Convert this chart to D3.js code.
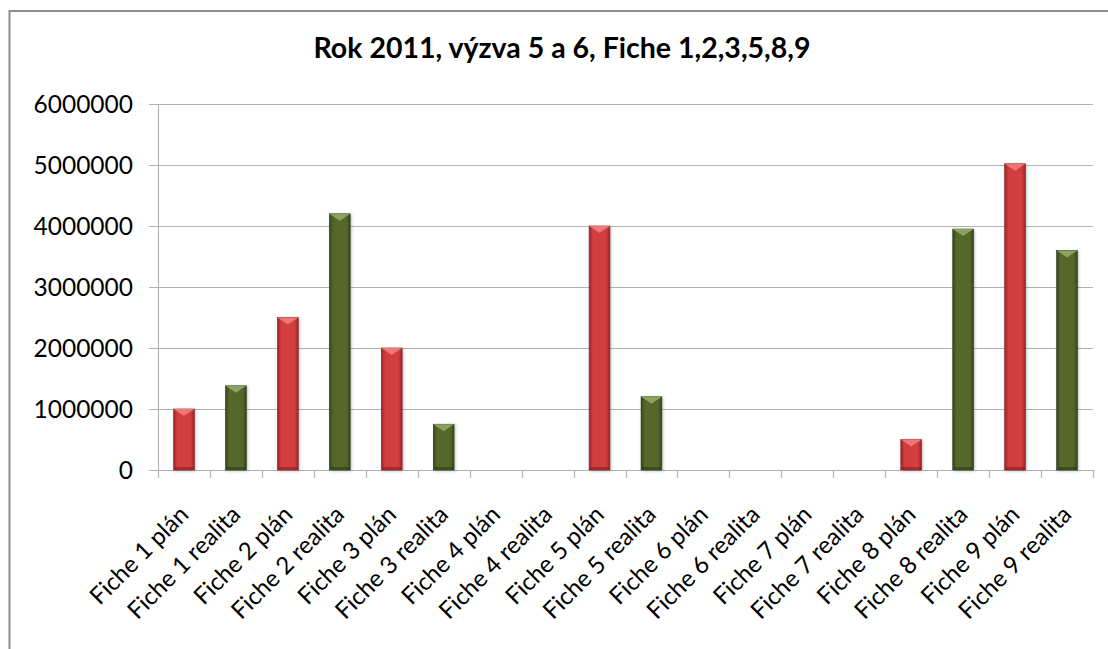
<!DOCTYPE html>
<html>
<head>
<meta charset="utf-8">
<script src="https://cdn.jsdelivr.net/npm/d3@7"></script>
<style>
  body { margin: 0; background: #fff; }
  text { font-family: Lato, "Open Sans", sans-serif; fill: #000; }
</style>
</head>
<body>
<svg width="1108" height="649"></svg>
<script>
// data
const categories = ['Fiche 1 plán', 'Fiche 1 realita', 'Fiche 2 plán', 'Fiche 2 realita',
  'Fiche 3 plán', 'Fiche 3 realita', 'Fiche 4 plán', 'Fiche 4 realita',
  'Fiche 5 plán', 'Fiche 5 realita', 'Fiche 6 plán', 'Fiche 6 realita',
  'Fiche 7 plán', 'Fiche 7 realita', 'Fiche 8 plán', 'Fiche 8 realita',
  'Fiche 9 plán', 'Fiche 9 realita']
const values = [1000000, 1380000, 2500000, 4200000, 2000000, 750000, 0, 0,
  4000000, 1200000, 0, 0, 0, 0, 500000, 3950000, 5020000, 3600000]
const yTicks = [0, 1000000, 2000000, 3000000, 4000000, 5000000, 6000000]
const title = 'Rok 2011, výzva 5 a 6, Fiche 1,2,3,5,8,9'

const svg = d3.select('svg')
const margin = { left: 158, right: 1093, top: 104, bottom: 470 }

// bar styles: plán red, realita green
const styles = {
  red: { edge: '#9a2727', mid: '#d23c3d', top: '#ee7676', dark: '#7a1d1e' },
  green: { edge: '#38461a', mid: '#53672a', top: '#8ba260', dark: '#2a3513' }
}

const defs = svg.append('defs')
Object.entries(styles).forEach(([k, s]) => {
  const g = defs.append('linearGradient').attr('id', 'grad-' + k)
    .attr('x1', 0).attr('x2', 1).attr('y1', 0).attr('y2', 0)
  g.append('stop').attr('offset', '0%').attr('stop-color', s.edge)
  g.append('stop').attr('offset', '18%').attr('stop-color', s.mid)
  g.append('stop').attr('offset', '82%').attr('stop-color', s.mid)
  g.append('stop').attr('offset', '100%').attr('stop-color', s.edge)
})
const shadow = defs.append('filter').attr('id', 'shadow')
  .attr('x', '-30%').attr('y', '-10%').attr('width', '160%').attr('height', '120%')
shadow.append('feDropShadow').attr('dx', 1).attr('dy', 1).attr('stdDeviation', 1.5)
  .attr('flood-color', '#000').attr('flood-opacity', 0.25)

// chart frame
svg.append('rect')
  .attr('x', 9.5).attr('y', 11).attr('width', 1200).attr('height', 800)
  .attr('fill', '#fff').attr('stroke', '#8c8c8c').attr('stroke-width', 2)

svg.append('text')
  .attr('x', 562).attr('y', 58)
  .attr('text-anchor', 'middle')
  .attr('font-size', 28.5).attr('font-weight', 'bold')
  .text(title)

const x = d3.scaleBand().domain(categories).range([margin.left, margin.right])
  .paddingInner(0.6).paddingOuter(0.3)
const xOuter = d3.scaleBand().domain(categories).range([margin.left, margin.right])
const y = d3.scaleLinear().domain([0, 6000000]).range([margin.bottom, margin.top])

// gridlines
svg.append('g')
  .selectAll('line')
  .data(yTicks)
  .enter().append('line')
    .attr('x1', margin.left - 9).attr('x2', margin.right)
    .attr('y1', d => Math.round(y(d)) + 0.5).attr('y2', d => Math.round(y(d)) + 0.5)
    .attr('stroke', '#b3b3b3').attr('stroke-width', 1.2)

// y axis line
svg.append('line')
  .attr('x1', margin.left + 0.5).attr('x2', margin.left + 0.5)
  .attr('y1', margin.top).attr('y2', margin.bottom)
  .attr('stroke', '#b3b3b3').attr('stroke-width', 1.2)

// y labels
svg.append('g')
  .selectAll('text')
  .data(yTicks)
  .enter().append('text')
    .attr('x', 133).attr('y', d => y(d))
    .attr('dy', '0.36em')
    .attr('text-anchor', 'end')
    .attr('font-size', 24.5)
    .text(d => d)

// x ticks at category boundaries
const bounds = categories.map(c => xOuter(c)).concat([margin.right])
svg.append('g')
  .selectAll('line')
  .data(bounds)
  .enter().append('line')
    .attr('x1', d => Math.round(d) + 0.5).attr('x2', d => Math.round(d) + 0.5)
    .attr('y1', margin.bottom).attr('y2', margin.bottom + 8)
    .attr('stroke', '#b3b3b3').attr('stroke-width', 1.2)

// bars
const bars = svg.append('g')
  .selectAll('g')
  .data(categories.map((c, i) => ({ c, v: values[i], k: i % 2 === 0 ? 'red' : 'green' })).filter(d => d.v > 0))
  .enter().append('g')
  .attr('filter', 'url(#shadow)')

bars.append('rect')
  .attr('x', d => x(d.c)).attr('y', d => y(d.v))
  .attr('width', x.bandwidth()).attr('height', d => margin.bottom - y(d.v))
  .attr('fill', d => 'url(#grad-' + d.k + ')')
  .attr('stroke', d => styles[d.k].dark).attr('stroke-width', 0.6)

// bevel highlight on top
bars.append('path')
  .attr('d', d => {
    const x0 = x(d.c), w = x.bandwidth(), t = y(d.v)
    return `M${x0},${t} L${x0 + w},${t} L${x0 + w / 2},${t + 7} Z`
  })
  .attr('fill', d => styles[d.k].top)

// bottom darker strip
bars.append('rect')
  .attr('x', d => x(d.c) + 1).attr('y', margin.bottom - 3)
  .attr('width', x.bandwidth() - 2).attr('height', 3)
  .attr('fill', d => styles[d.k].dark).attr('opacity', 0.5)

// x labels rotated
svg.append('g')
  .selectAll('text')
  .data(categories)
  .enter().append('text')
    .attr('transform', d => `translate(${x(d) + x.bandwidth() / 2 + 6},${margin.bottom + 46}) rotate(-45)`)
    .attr('text-anchor', 'end')
    .attr('font-size', 24)
    .text(d => d)
</script>
</body>
</html>
